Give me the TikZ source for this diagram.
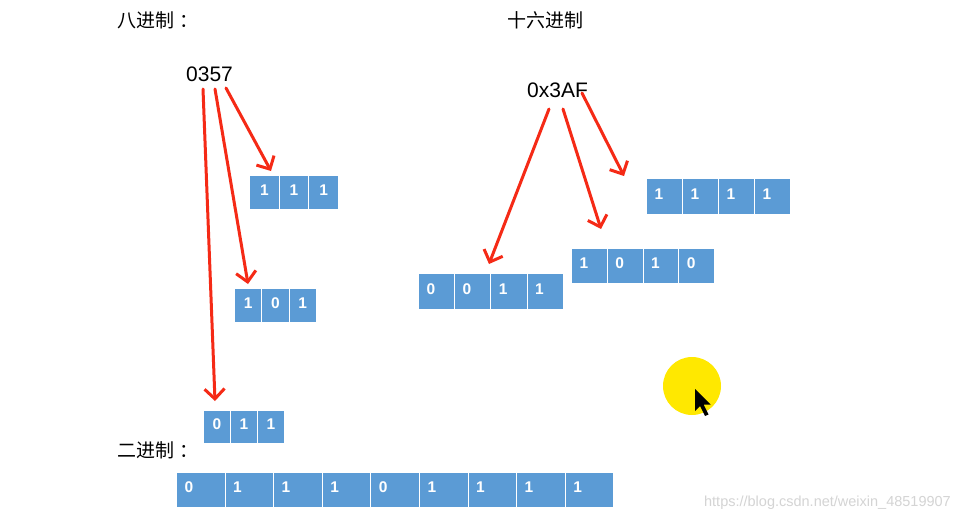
\documentclass[tikz,border=0pt]{standalone}
\usepackage{fontspec}
\setmainfont{Liberation Sans}
\newfontfamily\cjk{Noto Sans CJK SC}
\usetikzlibrary{arrows.meta}
\definecolor{cellblue}{HTML}{5B9BD5}
\definecolor{arrred}{HTML}{F52A16}
\definecolor{wmgray}{HTML}{D4D4D4}
\definecolor{cursoryellow}{HTML}{FFE800}
\tikzset{
  title/.style={font=\cjk\fontsize{19}{19}\selectfont, anchor=west, inner sep=0pt},
  number/.style={font=\fontsize{21}{21}\selectfont, anchor=west, inner sep=0pt},
  cell/.style={draw=white, line width=1pt, fill=cellblue, text=white,
     font=\fontsize{15.5}{15.5}\selectfont\bfseries, anchor=north west, text depth=5pt},
  octcell/.style={cell, inner xsep=0pt, align=center},
  hexcell/.style={cell, inner xsep=8pt, align=left},
  redarrow/.style={draw=arrred, line width=3pt, line cap=round,
     -{Straight Barb[length=10pt,width=20pt,line width=3pt]}},
}
% #1 prefix, #2 x0, #3 ytop, #4 width, #5 height, #6 style, #7 digits
\newcommand\cellrow[7]{%
  \foreach \d [count=\i] in {#7}{%
    \pgfmathsetmacro\cx{#2+(\i-1)*#4}%
    \ifx#6o
      \node[octcell, minimum width=#4pt, minimum height=#5pt, text width=#4pt] (#1\i) at (\cx,#3) {\d};
    \else
      \node[hexcell, minimum width=#4pt, minimum height=#5pt, text width=#4pt-16pt] (#1\i) at (\cx,#3) {\d};
    \fi
  }%
}
\begin{document}
\begin{tikzpicture}[x=1pt,y=-1pt]
\useasboundingbox (0,0) rectangle (960,522);
\fill[white] (0,0) rectangle (960,522);

% titles
\node[title] (toct) at (117,20) {八进制\hspace{5pt}：};
\node[title] (thex) at (507,20) {十六进制};
\node[title] (tbin) at (117,450) {二进制\hspace{5pt}：};

% numbers
\node[number] (noct) at (186,74) {0357};
\node[number] (nhex) at (527,90) {0x3AF};

% octal cell rows
\cellrow{oa}{249}{175}{29.7}{34}{o}{1,1,1}
\cellrow{ob}{234}{288}{27.3}{34}{o}{1,0,1}
\cellrow{oc}{203}{410}{27}{33}{o}{0,1,1}

% hex cell rows
\cellrow{ha}{646}{178}{36}{36}{h}{1,1,1,1}
\cellrow{hb}{571}{248}{35.8}{35}{h}{1,0,1,0}
\cellrow{hc}{418}{273}{36.2}{36}{h}{0,0,1,1}

% binary row
\cellrow{bn}{176}{472}{48.6}{35}{h}{0,1,1,1,0,1,1,1,1}

% arrow coordinates
\coordinate (os1) at (226,88);  \coordinate (oe1) at (271,171);
\coordinate (os2) at (215,89);  \coordinate (oe2) at (248,284);
\coordinate (os3) at (203,89);  \coordinate (oe3) at (215,401);
\coordinate (hs1) at (549,109); \coordinate (he1) at (489,264);
\coordinate (hs2) at (563,109); \coordinate (he2) at (601,229);
\coordinate (hs3) at (582,93);  \coordinate (he3) at (624,176);

\draw[redarrow] (os1) -- (oe1);
\draw[redarrow] (os2) -- (oe2);
\draw[redarrow] (os3) -- (oe3);
\draw[redarrow] (hs1) -- (he1);
\draw[redarrow] (hs2) -- (he2);
\draw[redarrow] (hs3) -- (he3);

% cursor highlight
\fill[cursoryellow] (692,386) circle (29);
\fill[black] (695,389) -- (695,411) -- (700,406) -- (705,416) -- (708.5,414.5) -- (703.5,404.5) -- (710.5,404.5) -- cycle;

% watermark
\node[font=\fontsize{14.5}{14.5}\selectfont, text=wmgray, anchor=east, inner sep=0pt] (wm) at (951,503) {https://blog.csdn.net/weixin\_48519907};
\end{tikzpicture}
\end{document}
